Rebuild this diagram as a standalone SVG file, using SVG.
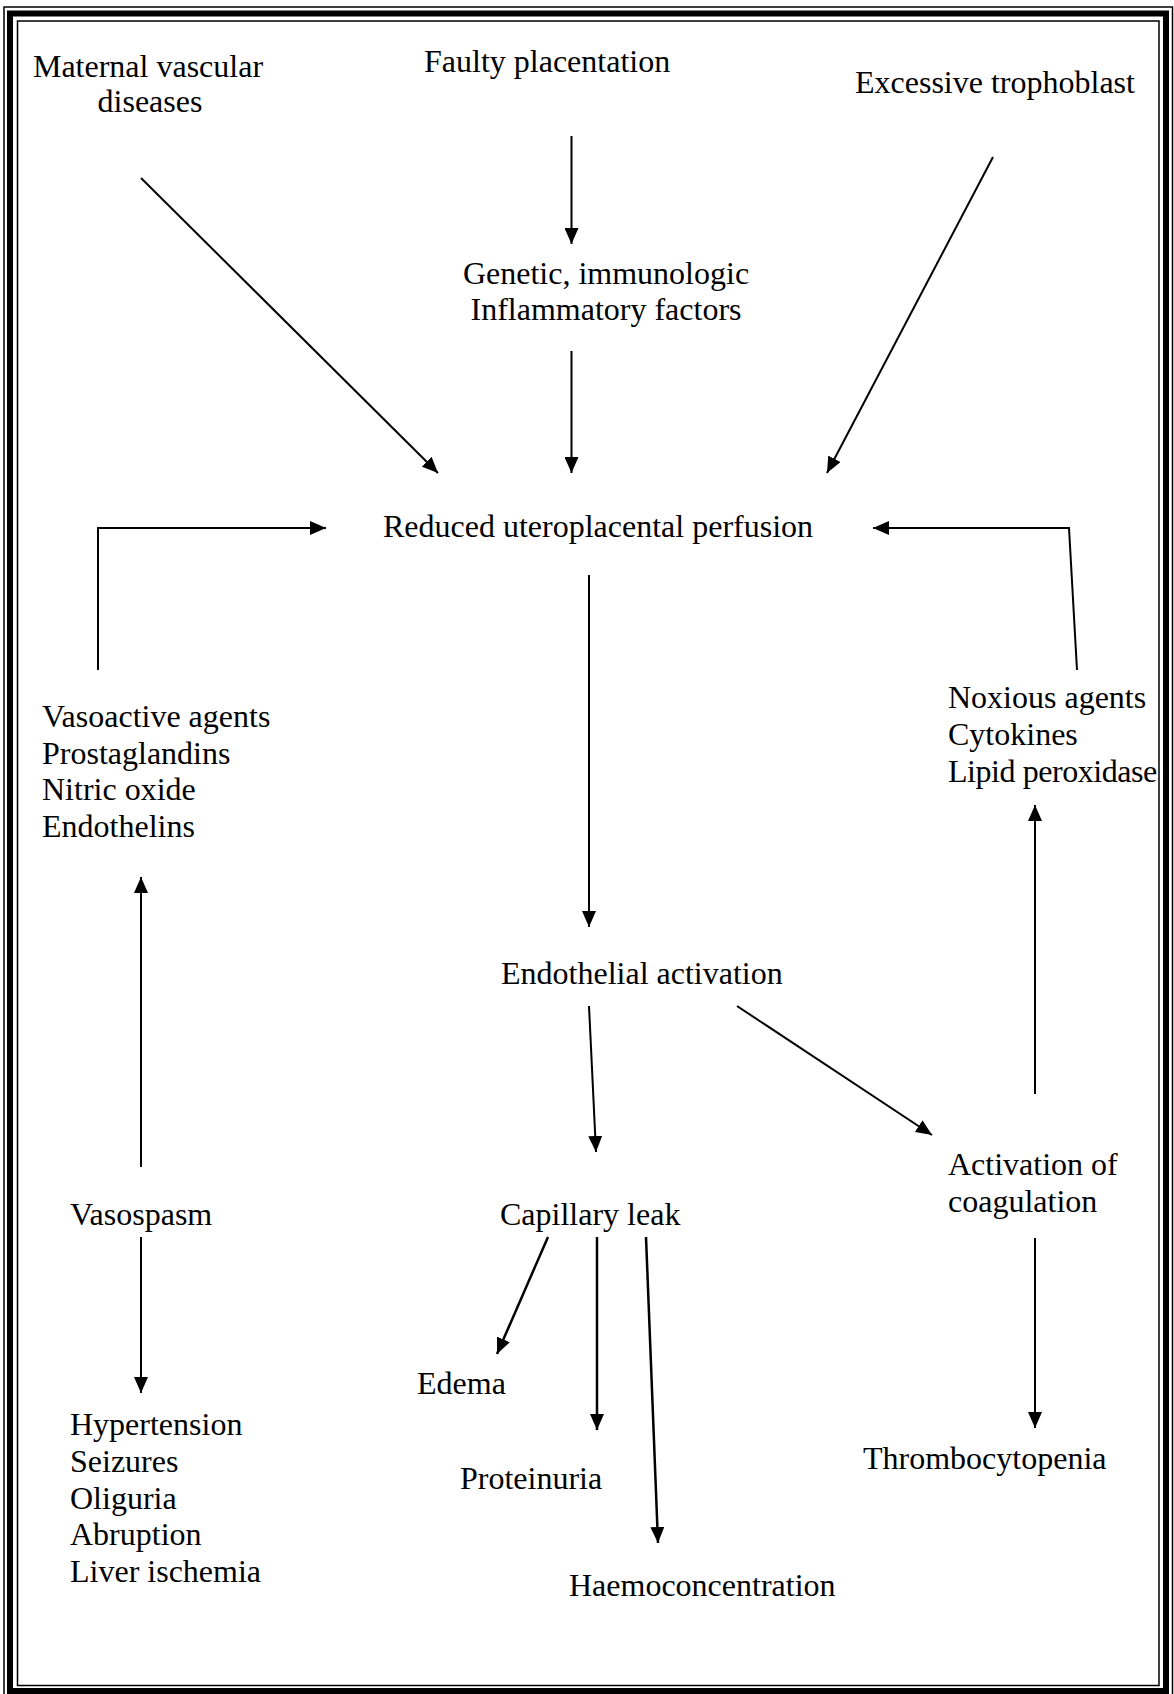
<svg xmlns="http://www.w3.org/2000/svg" width="1174" height="1694" viewBox="0 0 1174 1694">
<style>
text{font-family:"Liberation Serif","Times New Roman",serif;font-size:32px;fill:#000}
.c{stroke:#000;stroke-width:2;fill:none}
.m{text-anchor:middle}
</style>
<defs>
<marker id="ah" markerUnits="userSpaceOnUse" markerWidth="16" markerHeight="14" refX="16" refY="7" orient="auto">
<path d="M0,0 L16,7 L0,14 z" fill="#000"/>
</marker>
</defs>
<rect width="1174" height="1694" fill="#fff"/>
<g id="n-maternal"><text class="m" x="148" y="77">Maternal vascular</text><text class="m" x="150" y="112">diseases</text></g>
<g id="n-faulty"><text x="424" y="72">Faulty placentation</text></g>
<g id="n-excessive"><text x="855" y="93">Excessive trophoblast</text></g>
<g id="n-genetic"><text class="m" x="606" y="284">Genetic, immunologic</text><text class="m" x="606" y="320">Inflammatory factors</text></g>
<g id="n-reduced"><text x="383" y="537">Reduced uteroplacental perfusion</text></g>
<g id="n-vasoactive"><text x="42" y="727">Vasoactive agents</text><text x="42" y="764">Prostaglandins</text><text x="42" y="800">Nitric oxide</text><text x="42" y="837">Endothelins</text></g>
<g id="n-noxious"><text x="948" y="708">Noxious agents</text><text x="948" y="745">Cytokines</text><text x="948" y="782" letter-spacing="-0.45">Lipid peroxidases</text></g>
<g id="n-endothelial"><text x="501" y="984">Endothelial activation</text></g>
<g id="n-vasospasm"><text x="70" y="1225">Vasospasm</text></g>
<g id="n-capillary"><text x="500" y="1225">Capillary leak</text></g>
<g id="n-coagulation"><text x="948" y="1175">Activation of</text><text x="948" y="1212">coagulation</text></g>
<g id="n-hypertension"><text x="70" y="1435">Hypertension</text><text x="70" y="1472">Seizures</text><text x="70" y="1509">Oliguria</text><text x="70" y="1545">Abruption</text><text x="70" y="1582">Liver ischemia</text></g>
<g id="n-edema"><text x="417" y="1394">Edema</text></g>
<g id="n-proteinuria"><text x="460" y="1489">Proteinuria</text></g>
<g id="n-haemo"><text x="569" y="1596">Haemoconcentration</text></g>
<g id="n-thrombo"><text x="863" y="1469">Thrombocytopenia</text></g>
<g id="connectors" class="c" marker-end="url(#ah)">
<line x1="141" y1="178" x2="438" y2="473"/>
<line x1="571.5" y1="136" x2="571.5" y2="244"/>
<line x1="571.5" y1="351" x2="571.5" y2="473"/>
<line x1="993" y1="157" x2="827" y2="473"/>
<polyline points="98,670 98,528 326,528"/>
<polyline points="1077,670 1069,528 873,528"/>
<line x1="589" y1="575" x2="589" y2="927"/>
<line x1="589" y1="1006" x2="596" y2="1152"/>
<line x1="737" y1="1006" x2="932" y2="1135"/>
<line x1="1035" y1="1094" x2="1035" y2="805"/>
<line x1="141" y1="1167" x2="141" y2="877"/>
<line x1="141" y1="1237" x2="141" y2="1393"/>
<line x1="1035" y1="1238" x2="1035" y2="1428"/>
<line x1="548" y1="1237" x2="497" y2="1354" stroke-width="2.5"/>
<line x1="597" y1="1237" x2="597" y2="1430" stroke-width="2.5"/>
<line x1="646" y1="1237" x2="658" y2="1543" stroke-width="2.5"/>
</g>
<g id="border">
<path d="M0,0 H1174 V1694 H0 Z M18.5,22 H1158 V1684.5 H18.5 Z" fill="#fff" fill-rule="evenodd"/>
<rect x="4" y="7" width="1168.5" height="1690" fill="none" stroke="#000" stroke-width="1.5"/>
<rect x="10" y="13.5" width="1156" height="1677.5" fill="none" stroke="#000" stroke-width="6"/>
<rect x="17.5" y="21" width="1141.5" height="1664.5" fill="none" stroke="#000" stroke-width="1.5"/>
</g>
</svg>
